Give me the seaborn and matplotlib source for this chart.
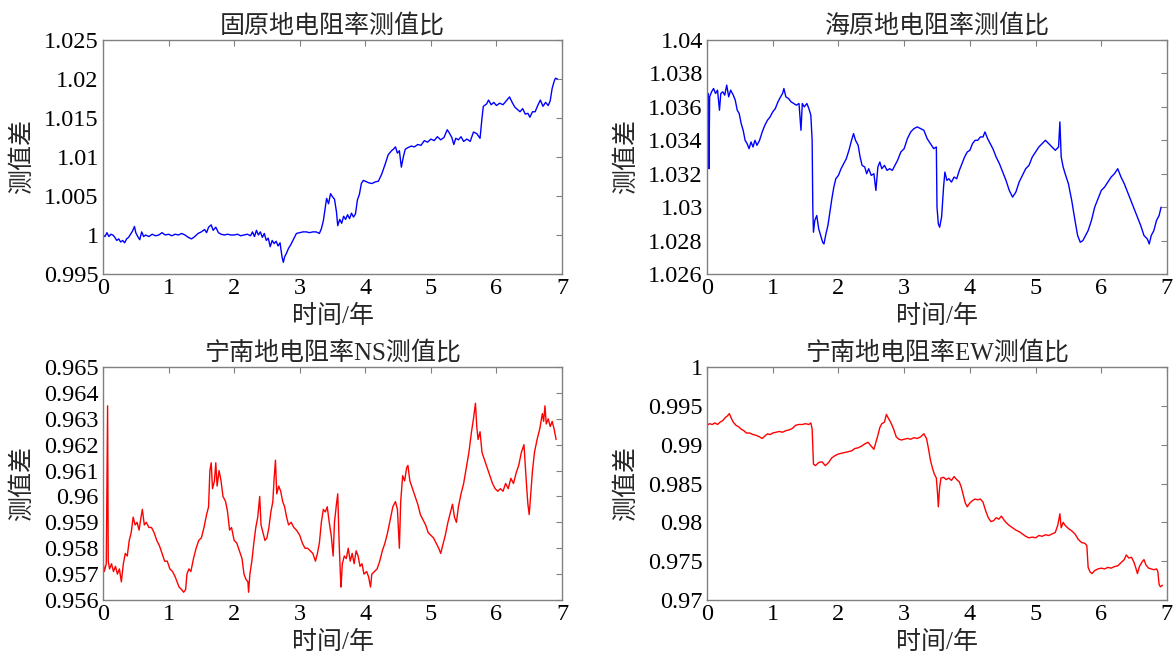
import numpy as np
import matplotlib
matplotlib.use("Agg")
import matplotlib.pyplot as plt
from matplotlib.ticker import FuncFormatter, MultipleLocator
import seaborn as sns

# ---------------- data ----------------
gy_x = [0.00, 0.03, 0.06, 0.09, 0.12, 0.15, 0.18, 0.21, 0.24, 0.27, 0.30, 0.33, 0.36, 0.39, 0.42, 0.45, 0.48, 0.50,
        0.53, 0.56, 0.59, 0.62, 0.65, 0.70, 0.75, 0.80, 0.85, 0.90, 0.95, 1.00, 1.05, 1.10, 1.15, 1.20, 1.25, 1.30,
        1.35, 1.40, 1.45, 1.50, 1.55, 1.58, 1.61, 1.65, 1.68, 1.72, 1.76, 1.80, 1.85, 1.90, 1.95, 2.00, 2.05, 2.10,
        2.15, 2.20, 2.25, 2.28, 2.31, 2.34, 2.37, 2.40, 2.43, 2.46, 2.49, 2.52, 2.55, 2.58, 2.61, 2.64, 2.67, 2.70,
        2.73, 2.75, 2.77, 2.80, 2.83, 2.86, 2.89, 2.92, 2.95, 3.00, 3.05, 3.10, 3.15, 3.20, 3.25, 3.30, 3.33, 3.36,
        3.39, 3.41, 3.44, 3.47, 3.50, 3.53, 3.56, 3.58, 3.61, 3.64, 3.67, 3.70, 3.73, 3.76, 3.79, 3.82, 3.85, 3.88,
        3.91, 3.94, 3.97, 4.00, 4.05, 4.10, 4.15, 4.20, 4.25, 4.30, 4.35, 4.40, 4.43, 4.46, 4.49, 4.52, 4.55, 4.58,
        4.61, 4.65, 4.70, 4.75, 4.80, 4.85, 4.90, 4.95, 5.00, 5.05, 5.10, 5.15, 5.20, 5.25, 5.28, 5.32, 5.35, 5.38,
        5.42, 5.46, 5.50, 5.55, 5.60, 5.65, 5.70, 5.75, 5.78, 5.80, 5.85, 5.88, 5.92, 5.96, 6.00, 6.05, 6.10, 6.15,
        6.20, 6.24, 6.28, 6.32, 6.36, 6.40, 6.44, 6.48, 6.51, 6.55, 6.59, 6.63, 6.67, 6.71, 6.75, 6.79, 6.82, 6.85,
        6.88, 6.90, 6.93]
gy_y = [1.0000, 0.9998, 1.0003, 0.9998, 1.0001, 1.0000, 0.9997, 0.9993, 0.9995, 0.9991, 0.9993, 0.9990, 0.9995,
        0.9997, 1.0001, 1.0005, 1.0011, 1.0003, 0.9998, 0.9994, 1.0004, 0.9998, 1.0000, 0.9998, 1.0001, 0.9999,
        1.0000, 1.0003, 1.0000, 1.0001, 0.9999, 1.0001, 1.0000, 1.0002, 1.0000, 0.9997, 0.9995, 0.9998, 1.0002,
        1.0004, 1.0007, 1.0003, 1.0010, 1.0013, 1.0006, 1.0010, 1.0003, 1.0001, 1.0000, 1.0001, 1.0000, 1.0000,
        1.0001, 0.9999, 1.0000, 1.0001, 0.9999, 1.0004, 0.9998, 1.0006, 1.0000, 1.0004, 0.9997, 1.0002, 0.9993,
        0.9996, 0.9985, 0.9993, 0.9989, 0.9992, 0.9986, 0.9990, 0.9972, 0.9965, 0.9972, 0.9977, 0.9983, 0.9987,
        0.9992, 0.9997, 1.0002, 1.0003, 1.0004, 1.0004, 1.0003, 1.0004, 1.0004, 1.0002, 1.0008, 1.0018, 1.0035,
        1.0047, 1.0040, 1.0053, 1.0049, 1.0046, 1.0030, 1.0012, 1.0020, 1.0015, 1.0024, 1.0020, 1.0026, 1.0021,
        1.0028, 1.0023, 1.0027, 1.0045, 1.0052, 1.0066, 1.0070, 1.0069, 1.0067, 1.0066, 1.0068, 1.0069, 1.0078,
        1.0090, 1.0103, 1.0108, 1.0110, 1.0113, 1.0105, 1.0108, 1.0087, 1.0100, 1.0110, 1.0112, 1.0114, 1.0113,
        1.0116, 1.0115, 1.0121, 1.0119, 1.0123, 1.0121, 1.0126, 1.0122, 1.0125, 1.0135, 1.0131, 1.0125, 1.0116,
        1.0124, 1.0122, 1.0126, 1.0120, 1.0123, 1.0120, 1.0132, 1.0130, 1.0124, 1.0150, 1.0165, 1.0168, 1.0173,
        1.0167, 1.0170, 1.0166, 1.0169, 1.0167, 1.0172, 1.0177, 1.0170, 1.0164, 1.0161, 1.0158, 1.0162, 1.0155,
        1.0156, 1.0151, 1.0158, 1.0158, 1.0166, 1.0173, 1.0165, 1.0170, 1.0166, 1.0172, 1.0188, 1.0197, 1.0201,
        1.0200]

hy_x = [0.00, 0.02, 0.03, 0.04, 0.07, 0.10, 0.13, 0.16, 0.19, 0.21, 0.24, 0.27, 0.30, 0.33, 0.36, 0.40, 0.43, 0.46,
        0.49, 0.52, 0.55, 0.58, 0.61, 0.64, 0.67, 0.70, 0.73, 0.76, 0.80, 0.84, 0.88, 0.92, 0.96, 1.00, 1.04, 1.08,
        1.12, 1.15, 1.17, 1.20, 1.24, 1.28, 1.32, 1.36, 1.40, 1.43, 1.45, 1.48, 1.52, 1.55, 1.58, 1.60, 1.61, 1.62,
        1.64, 1.67, 1.70, 1.73, 1.76, 1.78, 1.81, 1.84, 1.87, 1.90, 1.93, 1.96, 2.00, 2.04, 2.08, 2.12, 2.16, 2.20,
        2.23, 2.26, 2.30, 2.33, 2.36, 2.40, 2.43, 2.46, 2.50, 2.54, 2.57, 2.60, 2.63, 2.66, 2.70, 2.74, 2.78, 2.82,
        2.86, 2.90, 2.95, 3.00, 3.05, 3.10, 3.15, 3.20, 3.25, 3.30, 3.35, 3.40, 3.45, 3.49, 3.50, 3.52, 3.54, 3.57,
        3.60, 3.62, 3.65, 3.68, 3.72, 3.76, 3.80, 3.84, 3.88, 3.92, 3.96, 4.00, 4.04, 4.08, 4.12, 4.16, 4.20, 4.23,
        4.27, 4.31, 4.35, 4.40, 4.45, 4.50, 4.55, 4.60, 4.65, 4.70, 4.75, 4.80, 4.85, 4.90, 4.95, 5.00, 5.05, 5.10,
        5.15, 5.20, 5.25, 5.30, 5.35, 5.37, 5.39, 5.42, 5.45, 5.50, 5.55, 5.60, 5.64, 5.68, 5.72, 5.76, 5.80, 5.85,
        5.90, 5.95, 6.00, 6.05, 6.10, 6.15, 6.20, 6.25, 6.30, 6.35, 6.40, 6.45, 6.50, 6.55, 6.60, 6.65, 6.70, 6.73,
        6.76, 6.80, 6.84, 6.88, 6.91]
hy_y = [1.0362, 1.0368, 1.0323, 1.0366, 1.0369, 1.0371, 1.0368, 1.0370, 1.0358, 1.0368, 1.0369, 1.0367, 1.0373,
        1.0366, 1.0370, 1.0367, 1.0364, 1.0358, 1.0356, 1.0350, 1.0346, 1.0340, 1.0338, 1.0335, 1.0339, 1.0336,
        1.0340, 1.0337, 1.0340, 1.0345, 1.0349, 1.0352, 1.0354, 1.0357, 1.0359, 1.0363, 1.0366, 1.0368, 1.0371,
        1.0366, 1.0365, 1.0363, 1.0362, 1.0361, 1.0362, 1.0346, 1.0362, 1.0360, 1.0362, 1.0359, 1.0355, 1.0340,
        1.0300, 1.0285, 1.0292, 1.0295, 1.0287, 1.0283, 1.0279, 1.0278, 1.0284, 1.0289, 1.0297, 1.0305, 1.0312,
        1.0317, 1.0319, 1.0323, 1.0326, 1.0329, 1.0334, 1.0340, 1.0344, 1.0340, 1.0337, 1.0330, 1.0325, 1.0324,
        1.0320, 1.0323, 1.0319, 1.0320, 1.0310, 1.0324, 1.0327, 1.0323, 1.0325, 1.0322, 1.0323, 1.0322, 1.0325,
        1.0328, 1.0333, 1.0335, 1.0341, 1.0345, 1.0347, 1.0348, 1.0347, 1.0346, 1.0341, 1.0338, 1.0335, 1.0336,
        1.0300, 1.0290, 1.0288, 1.0294, 1.0312, 1.0321, 1.0316, 1.0317, 1.0315, 1.0318, 1.0317, 1.0322, 1.0326,
        1.0330, 1.0333, 1.0334, 1.0338, 1.0340, 1.0340, 1.0342, 1.0342, 1.0345, 1.0341, 1.0338, 1.0335, 1.0330,
        1.0326, 1.0321, 1.0316, 1.0310, 1.0306, 1.0309, 1.0315, 1.0319, 1.0323, 1.0325, 1.0330, 1.0333, 1.0336,
        1.0338, 1.0340, 1.0338, 1.0336, 1.0334, 1.0336, 1.0351, 1.0330, 1.0324, 1.0320, 1.0314, 1.0304, 1.0292,
        1.0283, 1.0279, 1.0280, 1.0283, 1.0286, 1.0292, 1.0300, 1.0305, 1.0310, 1.0312, 1.0315, 1.0318, 1.0320,
        1.0323, 1.0318, 1.0314, 1.0309, 1.0304, 1.0299, 1.0294, 1.0289, 1.0283, 1.0281, 1.0278, 1.0283, 1.0286,
        1.0292, 1.0295, 1.0300]

ns_x = [0.00, 0.02, 0.05, 0.07, 0.08, 0.10, 0.13, 0.16, 0.19, 0.22, 0.25, 0.28, 0.31, 0.34, 0.37, 0.40, 0.43, 0.46,
        0.49, 0.52, 0.55, 0.58, 0.60, 0.63, 0.66, 0.70, 0.74, 0.78, 0.82, 0.86, 0.90, 0.94, 0.98, 1.02, 1.06, 1.10,
        1.13, 1.16, 1.20, 1.23, 1.26, 1.28, 1.31, 1.34, 1.38, 1.42, 1.46, 1.50, 1.54, 1.58, 1.61, 1.63, 1.65, 1.67,
        1.70, 1.72, 1.74, 1.77, 1.80, 1.83, 1.87, 1.90, 1.93, 1.96, 2.00, 2.04, 2.08, 2.12, 2.15, 2.18, 2.21, 2.22,
        2.24, 2.27, 2.30, 2.33, 2.36, 2.39, 2.41, 2.44, 2.47, 2.50, 2.53, 2.56, 2.59, 2.61, 2.63, 2.65, 2.68, 2.71,
        2.74, 2.77, 2.80, 2.83, 2.87, 2.91, 2.95, 3.00, 3.04, 3.08, 3.12, 3.16, 3.20, 3.24, 3.27, 3.30, 3.33, 3.36,
        3.39, 3.42, 3.45, 3.48, 3.51, 3.53, 3.56, 3.58, 3.60, 3.62, 3.63, 3.65, 3.68, 3.71, 3.74, 3.77, 3.80, 3.83,
        3.86, 3.89, 3.92, 3.95, 3.98, 4.02, 4.05, 4.08, 4.10, 4.14, 4.18, 4.22, 4.26, 4.30, 4.34, 4.38, 4.42, 4.46,
        4.49, 4.52, 4.54, 4.57, 4.60, 4.63, 4.65, 4.68, 4.72, 4.76, 4.80, 4.84, 4.88, 4.92, 4.96, 5.00, 5.04, 5.08,
        5.12, 5.15, 5.18, 5.22, 5.26, 5.30, 5.33, 5.36, 5.39, 5.42, 5.46, 5.50, 5.54, 5.58, 5.62, 5.65, 5.68, 5.70,
        5.72, 5.75, 5.78, 5.82, 5.86, 5.90, 5.94, 5.98, 6.02, 6.06, 6.10, 6.14, 6.18, 6.22, 6.26, 6.30, 6.34, 6.38,
        6.42, 6.44, 6.46, 6.48, 6.50, 6.52, 6.55, 6.58, 6.62, 6.66, 6.70, 6.72, 6.74, 6.76, 6.79, 6.82, 6.85, 6.88,
        6.91]
ns_y = [0.9575, 0.9571, 0.9574, 0.9635, 0.9575, 0.9572, 0.9574, 0.9571, 0.9573, 0.9570, 0.9572, 0.9567, 0.9574,
        0.9578, 0.9577, 0.9583, 0.9586, 0.9592, 0.9589, 0.9590, 0.9587, 0.9592, 0.9595, 0.9589, 0.9590, 0.9588,
        0.9588, 0.9586, 0.9583, 0.9581, 0.9578, 0.9575, 0.9575, 0.9572, 0.9571, 0.9569, 0.9567, 0.9565, 0.9564,
        0.9563, 0.9564, 0.9570, 0.9572, 0.9571, 0.9576, 0.9580, 0.9583, 0.9584, 0.9588, 0.9593, 0.9596, 0.9610,
        0.9613, 0.9603, 0.9606, 0.9613, 0.9604, 0.9610, 0.9606, 0.9600, 0.9598, 0.9594, 0.9587, 0.9588, 0.9583,
        0.9582, 0.9579, 0.9576, 0.9570, 0.9568, 0.9567, 0.9563, 0.9570, 0.9575, 0.9582, 0.9588, 0.9592, 0.9600,
        0.9589, 0.9586, 0.9583, 0.9584, 0.9588, 0.9594, 0.9598, 0.9607, 0.9614, 0.9601, 0.9604, 0.9602, 0.9598,
        0.9596, 0.9592, 0.9589, 0.9590, 0.9588, 0.9587, 0.9585, 0.9582, 0.9580, 0.9580, 0.9579, 0.9578, 0.9575,
        0.9578, 0.9582, 0.9590, 0.9595, 0.9594, 0.9596, 0.9590, 0.9585, 0.9577, 0.9590, 0.9597, 0.9601, 0.9583,
        0.9570, 0.9565, 0.9574, 0.9577, 0.9576, 0.9580, 0.9575, 0.9578, 0.9574, 0.9579, 0.9577, 0.9573, 0.9574,
        0.9570, 0.9571, 0.9569, 0.9565, 0.9570, 0.9571, 0.9572, 0.9575, 0.9579, 0.9582, 0.9586, 0.9591, 0.9596,
        0.9598, 0.9595, 0.9580, 0.9598, 0.9608, 0.9606, 0.9611, 0.9612, 0.9606, 0.9603, 0.9600, 0.9597, 0.9593,
        0.9591, 0.9589, 0.9586, 0.9585, 0.9584, 0.9582, 0.9580, 0.9578, 0.9581, 0.9585, 0.9590, 0.9594, 0.9597,
        0.9592, 0.9590, 0.9596, 0.9601, 0.9605, 0.9611, 0.9617, 0.9625, 0.9630, 0.9636, 0.9627, 0.9622, 0.9625,
        0.9617, 0.9614, 0.9611, 0.9608, 0.9605, 0.9603, 0.9602, 0.9603, 0.9602, 0.9605, 0.9603, 0.9607, 0.9605,
        0.9609, 0.9612, 0.9617, 0.9620, 0.9612, 0.9604, 0.9597, 0.9593, 0.9600, 0.9610, 0.9617, 0.9622, 0.9626,
        0.9632, 0.9629, 0.9635, 0.9628, 0.9630, 0.9627, 0.9629, 0.9626, 0.9622]

ew_x = [0.00, 0.04, 0.08, 0.12, 0.16, 0.20, 0.24, 0.28, 0.31, 0.34, 0.37, 0.40, 0.44, 0.48, 0.52, 0.56, 0.60, 0.65,
        0.70, 0.75, 0.80, 0.84, 0.88, 0.92, 0.96, 1.00, 1.05, 1.10, 1.15, 1.20, 1.25, 1.30, 1.35, 1.40, 1.45, 1.50,
        1.55, 1.58, 1.60, 1.62, 1.65, 1.70, 1.75, 1.80, 1.85, 1.90, 1.95, 2.00, 2.05, 2.10, 2.15, 2.20, 2.25, 2.30,
        2.35, 2.40, 2.45, 2.50, 2.54, 2.57, 2.60, 2.63, 2.66, 2.70, 2.73, 2.76, 2.80, 2.84, 2.88, 2.92, 2.96, 3.00,
        3.05, 3.10, 3.15, 3.20, 3.25, 3.30, 3.34, 3.37, 3.40, 3.43, 3.46, 3.49, 3.51, 3.52, 3.54, 3.56, 3.60, 3.64,
        3.68, 3.72, 3.76, 3.80, 3.84, 3.87, 3.90, 3.93, 3.96, 4.00, 4.04, 4.08, 4.12, 4.16, 4.20, 4.24, 4.28, 4.32,
        4.36, 4.40, 4.44, 4.48, 4.52, 4.56, 4.60, 4.65, 4.70, 4.75, 4.80, 4.85, 4.90, 4.95, 5.00, 5.05, 5.10, 5.15,
        5.20, 5.25, 5.30, 5.34, 5.37, 5.39, 5.42, 5.45, 5.50, 5.55, 5.60, 5.65, 5.70, 5.75, 5.78, 5.80, 5.83, 5.86,
        5.90, 5.95, 6.00, 6.05, 6.10, 6.15, 6.20, 6.25, 6.30, 6.35, 6.38, 6.42, 6.46, 6.50, 6.53, 6.55, 6.58, 6.62,
        6.65, 6.68, 6.72, 6.76, 6.80, 6.84, 6.86, 6.88, 6.90, 6.93]
ew_y = [0.9925, 0.9927, 0.9926, 0.9928, 0.9926, 0.9929, 0.9931, 0.9935, 0.9937, 0.9940, 0.9934, 0.9929, 0.9925,
        0.9923, 0.9920, 0.9918, 0.9915, 0.9915, 0.9913, 0.9912, 0.9910, 0.9908, 0.9911, 0.9914, 0.9913, 0.9915,
        0.9916, 0.9917, 0.9916, 0.9918, 0.9919, 0.9921, 0.9925, 0.9926, 0.9926, 0.9927, 0.9926, 0.9928, 0.9920,
        0.9875, 0.9873, 0.9877, 0.9878, 0.9873, 0.9877, 0.9883, 0.9886, 0.9888, 0.9889, 0.9890, 0.9891, 0.9892,
        0.9895, 0.9896, 0.9898, 0.9901, 0.9903, 0.9898, 0.9894, 0.9903, 0.9912, 0.9922, 0.9927, 0.9929, 0.9939,
        0.9934, 0.9928, 0.9920, 0.9910, 0.9907, 0.9906, 0.9907, 0.9908, 0.9907, 0.9909, 0.9908, 0.9910, 0.9914,
        0.9908, 0.9895, 0.9880, 0.9870, 0.9862, 0.9857, 0.9835, 0.9820, 0.9845, 0.9857, 0.9858, 0.9855, 0.9857,
        0.9854, 0.9859, 0.9855, 0.9852, 0.9845, 0.9835, 0.9825, 0.9820, 0.9825, 0.9828, 0.9830, 0.9829, 0.9830,
        0.9826, 0.9815, 0.9806, 0.9801, 0.9802, 0.9806, 0.9804, 0.9808, 0.9803, 0.9799, 0.9796, 0.9793, 0.9790,
        0.9788, 0.9785, 0.9782, 0.9780, 0.9781, 0.9780, 0.9783, 0.9782, 0.9784, 0.9783, 0.9785, 0.9787, 0.9797,
        0.9811, 0.9793, 0.9800, 0.9796, 0.9792, 0.9789, 0.9785, 0.9778, 0.9774, 0.9773, 0.9770, 0.9742, 0.9736,
        0.9734, 0.9738, 0.9740, 0.9741, 0.9740, 0.9742, 0.9741, 0.9743, 0.9744, 0.9748, 0.9752, 0.9758, 0.9754,
        0.9755, 0.9748, 0.9740, 0.9734, 0.9743, 0.9749, 0.9752, 0.9745, 0.9741, 0.9740, 0.9739, 0.9740, 0.9737,
        0.9720, 0.9717, 0.9719]

titles = ["固原地电阻率测值比", "海原地电阻率测值比", "宁南地电阻率NS测值比", "宁南地电阻率EW测值比"]
xlabel_text = "时间/年"
ylabel_text = "测值差"
ylims = [(0.995, 1.025), (1.026, 1.040), (0.956, 0.965), (0.970, 1.000)]
ysteps = [0.005, 0.002, 0.001, 0.005]

# ---------------- style ----------------
sns.set_style("white")
plt.rcParams["font.family"] = ["Liberation Serif", "Noto Sans CJK SC"]
plt.rcParams["axes.unicode_minus"] = False

fig = plt.figure(figsize=(11.74, 6.56), dpi=100)
positions = [
    [103 / 1174, 1 - 274 / 656, 459 / 1174, 234 / 656],
    [707 / 1174, 1 - 274 / 656, 460 / 1174, 234 / 656],
    [103 / 1174, 1 - 600 / 656, 459 / 1174, 233 / 656],
    [707 / 1174, 1 - 600 / 656, 460 / 1174, 233 / 656],
]
series = [(gy_x, gy_y, "#0000FF"), (hy_x, hy_y, "#0000FF"),
          (ns_x, ns_y, "#FF0000"), (ew_x, ew_y, "#FF0000")]

fmt = FuncFormatter(lambda v, p: format(round(v, 6), "g"))

for i, (pos, (xs, ys, col)) in enumerate(zip(positions, series)):
    ax = fig.add_axes(pos)
    sns.lineplot(x=xs, y=ys, ax=ax, color=col, linewidth=1.0, estimator=None, sort=False)
    ax.set_xlim(0, 7)
    ax.set_ylim(*ylims[i])
    ax.xaxis.set_major_locator(MultipleLocator(1))
    ax.yaxis.set_major_locator(MultipleLocator(ysteps[i]))
    ax.yaxis.set_major_formatter(fmt)
    ax.xaxis.set_major_formatter(fmt)
    ax.tick_params(direction="in", top=True, right=True, length=4, width=0.8,
                   color="#808080", labelsize=17.5, pad=3, labelcolor="black")
    for s in ax.spines.values():
        s.set_color("#808080")
        s.set_linewidth(1.0)
    ax.set_title(titles[i], fontsize=18, pad=5)
    ax.set_xlabel(xlabel_text, fontsize=18, labelpad=4)
    ax.set_ylabel(ylabel_text, fontsize=18, labelpad=7)

fig.savefig("out.png", dpi=100)
